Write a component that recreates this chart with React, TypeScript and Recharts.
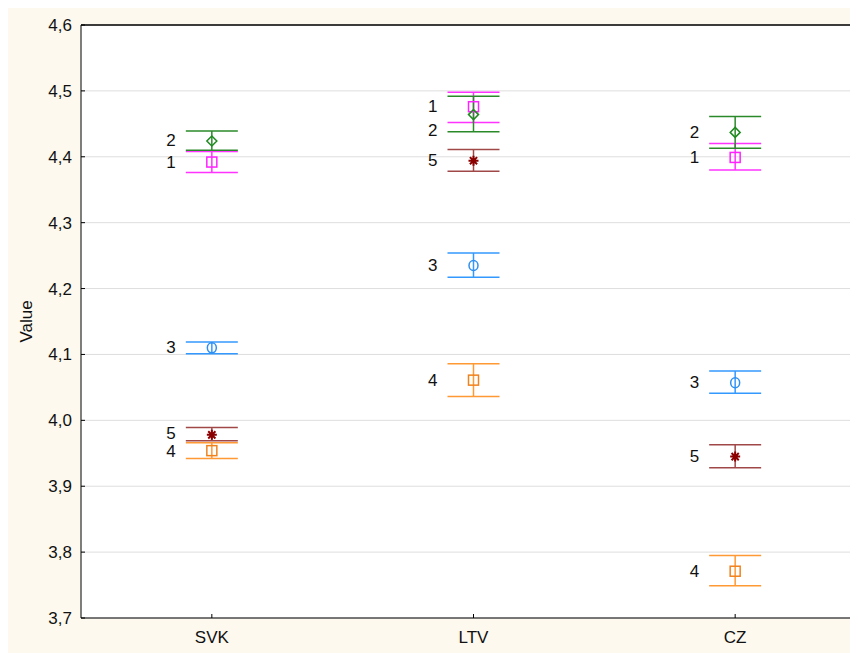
import React from 'react';
import {
  ComposedChart,
  Line,
  ErrorBar,
  XAxis,
  YAxis,
  CartesianGrid,
  ReferenceLine,
} from 'recharts';

const categories = ['SVK', 'LTV', 'CZ'];
const yTicks = [3.7, 3.8, 3.9, 4.0, 4.1, 4.2, 4.3, 4.4, 4.5, 4.6];

// group 1
const mean1 = [4.392, 4.476, 4.399];
const low1 = [4.376, 4.452, 4.38];
const high1 = [4.408, 4.498, 4.42];
// group 2
const mean2 = [4.424, 4.464, 4.437];
const low2 = [4.41, 4.438, 4.413];
const high2 = [4.439, 4.492, 4.461];
// group 3
const mean3 = [4.11, 4.235, 4.057];
const low3 = [4.101, 4.217, 4.041];
const high3 = [4.119, 4.254, 4.075];
// group 4
const mean4 = [3.954, 4.061, 3.771];
const low4 = [3.942, 4.036, 3.749];
const high4 = [3.966, 4.086, 3.795];
// group 5
const mean5 = [3.978, 4.394, 3.945];
const low5 = [3.969, 4.378, 3.928];
const high5 = [3.989, 4.411, 3.963];

type Shape = 'square' | 'diamond' | 'circle' | 'star';

const series: { id: string; mean: number[]; low: number[]; high: number[]; bar: string; mark: string; shape: Shape }[] = [
  { id: '1', mean: mean1, low: low1, high: high1, bar: '#ff33ff', mark: '#ff22ff', shape: 'square' },
  { id: '2', mean: mean2, low: low2, high: high2, bar: '#2a8a2a', mark: '#1f8a1f', shape: 'diamond' },
  { id: '3', mean: mean3, low: low3, high: high3, bar: '#3399ff', mark: '#2f8ff0', shape: 'circle' },
  { id: '4', mean: mean4, low: low4, high: high4, bar: '#ff9933', mark: '#f0821e', shape: 'square' },
  { id: '5', mean: mean5, low: low5, high: high5, bar: '#a04848', mark: '#8b0000', shape: 'star' },
];

const Y_MIN = 3.7;
const Y_MAX = 4.6;
const PLOT_H = 593;
const unitPx = PLOT_H / (Y_MAX - Y_MIN);
const CLASH = 12 / unitPx; // labels nearly on top of each other
const MIN_GAP = 18.5 / unitPx;
const STEP = 24 / unitPx;

// move number labels apart when they would sit on top of each other
const labelValues = categories.map((_, ci) => {
  const order = series
    .map((s, si) => ({ si, v: s.mean[ci] }))
    .sort((a, b) => b.v - a.v);
  const out: number[] = [];
  let prevSi: number | null = null;
  order.forEach((o) => {
    let v = o.v;
    if (prevSi !== null) {
      const prev = out[prevSi];
      const gap = prev - v;
      if (gap < CLASH) {
        v = prev - STEP;
      } else if (gap < MIN_GAP) {
        const half = (MIN_GAP - gap) / 2;
        out[prevSi] = prev + half;
        v = v - half;
      }
    }
    out[o.si] = v;
    prevSi = o.si;
  });
  return out;
});

const data = categories.map((cat, ci) => {
  const row: Record<string, any> = { cat };
  series.forEach((s, si) => {
    row['m' + s.id] = s.mean[ci];
    row['e' + s.id] = [s.mean[ci] - s.low[ci], s.high[ci] - s.mean[ci]];
    row['l' + s.id] = labelValues[ci][si];
  });
  return row;
});

const makeDot = (shape: Shape, color: string) => (p: any) => {
  const { cx, cy, index } = p;
  const k = `dot-${shape}-${color}-${index}`;
  if (cx == null || cy == null) return <g key={k} />;
  if (shape === 'square')
    return <rect key={k} x={cx - 5} y={cy - 5} width={10} height={10} fill="none" stroke={color} strokeWidth={1.5} />;
  if (shape === 'diamond')
    return (
      <path key={k} d={`M${cx},${cy - 5}L${cx + 5},${cy}L${cx},${cy + 5}L${cx - 5},${cy}Z`} fill="none" stroke={color} strokeWidth={1.5} />
    );
  if (shape === 'circle')
    return <ellipse key={k} cx={cx} cy={cy} rx={4.5} ry={5} fill="none" stroke={color} strokeWidth={1.5} />;
  const r = 5;
  const d = 3.6;
  return (
    <path
      key={k}
      d={`M${cx},${cy - r}L${cx},${cy + r}M${cx - r},${cy}L${cx + r},${cy}M${cx - d},${cy - d}L${cx + d},${cy + d}M${cx - d},${cy + d}L${cx + d},${cy - d}`}
      stroke={color}
      strokeWidth={2}
    />
  );
};

const makeLabel = (text: string) => (p: any) => (
  <text
    key={`lab-${text}-${p.index}`}
    x={p.x - 36}
    y={p.y}
    textAnchor="end"
    dominantBaseline="central"
    fontSize={17}
    fill="#111"
  >
    {text}
  </text>
);

const fmt = (v: number) => v.toFixed(1).replace('.', ',');

const App: React.FC = () => {
  return (
    <div
      style={{
        width: 850,
        height: 645,
        overflow: 'hidden',
        background: '#fdf9ee',
        fontFamily: '"Liberation Sans", Arial, sans-serif',
      }}
    >
      <ComposedChart width={860} height={645} data={data} margin={{ top: 17, right: 2, bottom: 0, left: 0 }}>
        <CartesianGrid vertical={false} stroke="#dedede" fill="#ffffff" />
        <XAxis
          dataKey="cat"
          type="category"
          scale="band"
          interval={0}
          height={35}
          axisLine={{ stroke: '#000' }}
          tickLine={{ stroke: '#000' }}
          tickSize={-4}
          tickMargin={17}
          tick={{ fill: '#111', fontSize: 17 }}
        />
        <YAxis
          type="number"
          domain={[Y_MIN, Y_MAX]}
          ticks={yTicks}
          allowDataOverflow
          width={73}
          axisLine={{ stroke: '#000' }}
          tickLine={{ stroke: '#000' }}
          tickSize={-4}
          tickMargin={13}
          tick={{ fill: '#111', fontSize: 17 }}
          tickFormatter={fmt}
          label={{
            value: 'Value',
            angle: -90,
            position: 'insideLeft',
            offset: 18,
            style: { textAnchor: 'middle', fill: '#111', fontSize: 17 },
          }}
        />
        <ReferenceLine y={Y_MAX} stroke="#000" strokeWidth={1.5} />
        {series.map((s) => (
          <Line
            key={'m' + s.id}
            dataKey={'m' + s.id}
            stroke="none"
            dot={makeDot(s.shape, s.mark)}
            activeDot={false}
            isAnimationActive={false}
          >
            <ErrorBar dataKey={'e' + s.id} direction="y" width={26} stroke={s.bar} strokeWidth={1.5} />
          </Line>
        ))}
        {series.map((s) => (
          <Line
            key={'l' + s.id}
            dataKey={'l' + s.id}
            stroke="none"
            dot={false}
            activeDot={false}
            label={makeLabel(s.id)}
            isAnimationActive={false}
          />
        ))}
      </ComposedChart>
    </div>
  );
};

export default App;
